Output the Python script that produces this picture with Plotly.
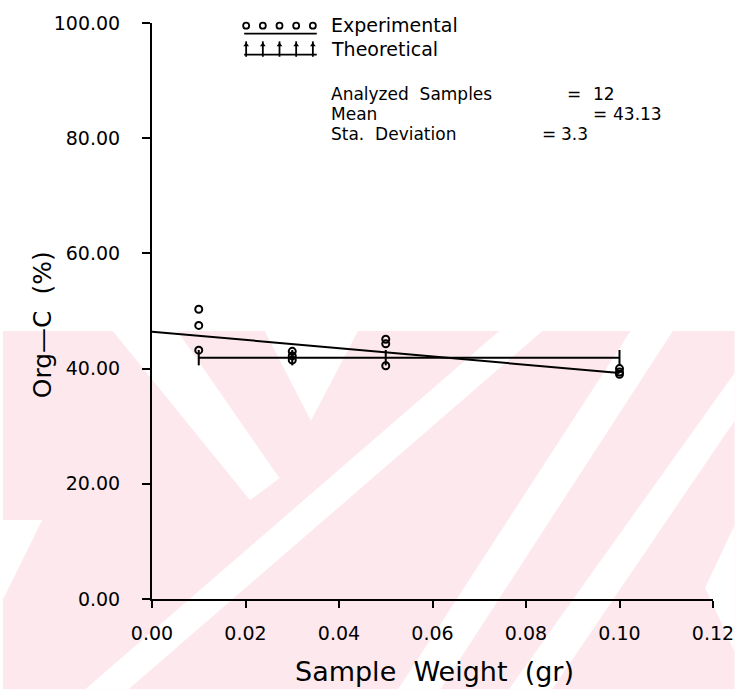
import numpy as np
import plotly.graph_objects as go

# ---------------- data ----------------
weights = [0.01, 0.01, 0.01, 0.03, 0.03, 0.03, 0.05, 0.05, 0.05, 0.10, 0.10, 0.10]
org_c = [50.3, 47.5, 43.2, 43.0, 42.2, 41.5, 45.1, 44.3, 40.5, 40.0, 39.4, 39.0]
theo_x = [0.01, 0.03, 0.05, 0.10]
theo_y = [41.9, 41.9, 41.9, 41.9]
fit_x = [0.0, 0.10]
x_ticks = [0.00, 0.02, 0.04, 0.06, 0.08, 0.10, 0.12]
y_ticks = [0, 20, 40, 60, 80, 100]
stat_names = ["Analyzed  Samples", "Mean", "Sta.  Deviation"]
stat_values = ["12", "43.13", "3.3"]
legend_names = ["Experimental", "Theoretical"]

slope, intercept = np.polyfit(weights, org_c, 1)
fit_y = [intercept + slope * v for v in fit_x]

# ---------------- layout constants (pixels) ----------------
W, H = 746, 694
L, R, T, B = 152, 724, 20.3, 599.3
FONT = "DejaVu Sans"


def px(x):
    return (x - L) / (R - L)


def py(y):
    return (B - y) / (B - T)


fig = go.Figure()

fig.add_trace(go.Scatter(x=fit_x, y=fit_y, mode="lines",
                         line=dict(color="black", width=2), showlegend=False))
fig.add_trace(go.Scatter(x=theo_x, y=theo_y, mode="lines+markers",
                         line=dict(color="black", width=2),
                         marker=dict(symbol="line-ns", size=11, color="black",
                                     line=dict(color="black", width=2)),
                         showlegend=False))
fig.add_trace(go.Scatter(x=weights, y=org_c, mode="markers",
                         marker=dict(symbol="circle-open", size=7, color="black",
                                     line=dict(color="black", width=2)),
                         showlegend=False))

# ---- plotter-style legend drawn on a pixel overlay axis ----
leg_x = [248, 265, 282, 299, 316]
fig.add_trace(go.Scatter(x=leg_x, y=[23] * 5, mode="markers", xaxis="x2", yaxis="y2",
                         marker=dict(symbol="circle-open", size=6, color="black",
                                     line=dict(color="black", width=1.8)),
                         showlegend=False, cliponaxis=False))
fig.add_trace(go.Scatter(x=[246, 320], y=[31, 31], mode="lines", xaxis="x2", yaxis="y2",
                         line=dict(color="black", width=1.8), showlegend=False,
                         cliponaxis=False))
fig.add_trace(go.Scatter(x=leg_x, y=[46.5] * 5, mode="markers", xaxis="x2", yaxis="y2",
                         marker=dict(symbol="line-ns", size=11, color="black",
                                     line=dict(color="black", width=1.8)),
                         showlegend=False, cliponaxis=False))
fig.add_trace(go.Scatter(x=leg_x, y=[42.5] * 5, mode="markers", xaxis="x2", yaxis="y2",
                         marker=dict(symbol="triangle-up", size=5, color="black",
                                     line=dict(width=0)),
                         showlegend=False, cliponaxis=False))
fig.add_trace(go.Scatter(x=[246, 320], y=[52, 52], mode="lines", xaxis="x2", yaxis="y2",
                         line=dict(color="black", width=1.8), showlegend=False,
                         cliponaxis=False))

annotations = [
    dict(text=legend_names[0], x=px(332), y=py(22), size=19),
    dict(text=legend_names[1], x=px(332), y=py(46), size=19),
    dict(text=stat_names[0], x=px(332), y=py(92), size=17),
    dict(text="=", x=px(573), y=py(92), size=17),
    dict(text=stat_values[0], x=px(600), y=py(92), size=17),
    dict(text=stat_names[1], x=px(332), y=py(112), size=17),
    dict(text="=", x=px(600), y=py(112), size=17),
    dict(text=stat_values[1], x=px(620), y=py(112), size=17),
    dict(text=stat_names[2], x=px(332), y=py(132), size=17),
    dict(text="=", x=px(548), y=py(132), size=17),
    dict(text=stat_values[2], x=px(567), y=py(132), size=17),
]
for a in annotations:
    s = a.pop("size")
    a.update(xref="paper", yref="paper", xanchor="left", yanchor="middle",
             showarrow=False, font=dict(family=FONT, size=s, color="black"))

annotations.append(dict(text="Org\u2014C  (%)", xref="paper", yref="paper",
                        x=px(40), y=py(324), textangle=-90, showarrow=False,
                        xanchor="center", yanchor="middle",
                        font=dict(family=FONT, size=25, color="black")))
annotations.append(dict(text="Sample  Weight  (gr)", xref="paper", yref="paper",
                        x=px(440), y=py(672), showarrow=False,
                        xanchor="center", yanchor="middle",
                        font=dict(family=FONT, size=27, color="black")))

# ---- faint pink watermark of the scanned page ----
PINK = "#fde9ed"


def poly(points, color):
    d = "M " + " L ".join(f"{px(x):.5f},{py(y):.5f}" for x, y in points) + " Z"
    return dict(type="path", path=d, xref="paper", yref="paper",
                fillcolor=color, line=dict(width=0), layer="below")


shapes = [dict(type="rect", xref="paper", yref="paper", x0=px(0), x1=px(W),
               y0=py(330), y1=py(690), fillcolor=PINK, line=dict(width=0), layer="below")]
white_polys = [
    [(112, 330), (178, 330), (282, 478), (252, 500)],
    [(267, 330), (362, 330), (314, 420)],
    [(506, 330), (550, 330), (128, 690), (84, 690)],
    [(640, 330), (683, 330), (446, 690), (403, 690)],
    [(746, 372), (746, 420), (560, 690), (516, 690)],
    [(746, 525), (716, 588), (746, 652)],
    [(0, 520), (40, 520), (0, 600)],
]
for p in white_polys:
    shapes.append(poly(p, "white"))

fig.update_layout(
    width=W, height=H,
    margin=dict(l=L, r=W - R, t=T, b=H - B, pad=0),
    paper_bgcolor="white", plot_bgcolor="rgba(0,0,0,0)",
    showlegend=False,
    annotations=annotations, shapes=shapes,
    xaxis=dict(range=[0, 0.12], tickvals=x_ticks, tickformat=".2f",
               showgrid=False, zeroline=False, showline=True, linecolor="black",
               linewidth=2, ticks="outside", ticklen=7, tickwidth=2, tickcolor="black",
               ticklabelstandoff=9,
               tickfont=dict(family=FONT, size=19, color="black")),
    yaxis=dict(range=[0, 100], tickvals=y_ticks, tickformat=".2f",
               showgrid=False, zeroline=False, showline=True, linecolor="black",
               linewidth=2, ticks="outside", ticklen=8, tickwidth=2, tickcolor="black",
               ticklabelstandoff=18,
               tickfont=dict(family=FONT, size=19, color="black")),
    xaxis2=dict(overlaying="x", range=[L, R], visible=False),
    yaxis2=dict(overlaying="y", range=[B, T], visible=False),
)

fig.write_html("out.html")
